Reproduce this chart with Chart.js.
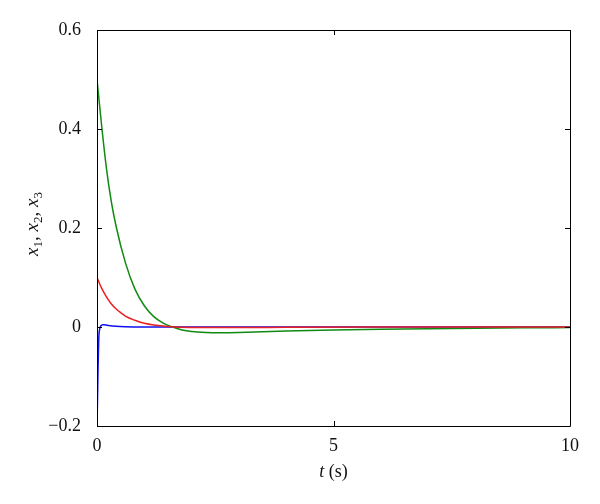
<!DOCTYPE html>
<html>
<head>
<meta charset="utf-8">
<script src="https://cdn.jsdelivr.net/npm/chart.js@4/dist/chart.umd.min.js"></script>
<style>
html,body{margin:0;padding:0;background:#fff;}
#wrap{width:600px;height:504px;}
</style>
</head>
<body>
<div id="wrap"><canvas id="c" width="600" height="504"></canvas></div>
<script>
// ---- data ----
const xTicks = [0, 5, 10];
const yTicks = [-0.2, 0, 0.2, 0.4, 0.6];

// x1 (blue)
const t1 = [0, 0.01, 0.02, 0.03, 0.04, 0.06, 0.08, 0.12, 0.16, 0.25, 0.4, 0.6, 1.0, 2, 4, 6, 8, 10];
const x1 = [-0.2, -0.15, -0.095, -0.05, -0.018, -0.003, 0.002, 0.0045, 0.0045, 0.003, 0.0015, 0.0006, 0.0001, 0, 0, 0, 0, 0];

// x2 (green)
const t2 = [0, 0.1, 0.2, 0.3, 0.4, 0.6, 0.8, 1.0, 1.2, 1.4, 1.6, 1.8, 2.0, 2.3, 2.6, 3.0, 3.5, 4, 5, 6, 7, 8, 9, 10];
const x2 = [0.5, 0.405, 0.32, 0.255, 0.205, 0.13, 0.077, 0.043, 0.021, 0.008, 0.0, -0.006, -0.009, -0.011, -0.0115, -0.011, -0.0095, -0.008, -0.006, -0.0045, -0.0033, -0.0024, -0.0017, -0.0012];

// x3 (red)
const t3 = [0, 0.1, 0.2, 0.3, 0.4, 0.5, 0.6, 0.8, 1.0, 1.2, 1.5, 2, 3, 4, 6, 8, 10];
const x3 = [0.1, 0.078, 0.061, 0.047, 0.037, 0.029, 0.022, 0.0135, 0.0075, 0.004, 0.001, -0.0008, -0.001, -0.0006, -0.0002, 0, 0];

const pts = (t, v) => t.map((x, i) => ({x: x, y: v[i]}));

const SERIF = '"Liberation Serif", "DejaVu Serif", serif';

const framePlugin = {
  id: 'frame',
  afterDatasetsDraw(chart) {
    const {ctx, chartArea: a, scales} = chart;
    const xs = scales.x, ys = scales.y;
    ctx.save();
    ctx.strokeStyle = '#000';
    ctx.lineWidth = 1;
    ctx.beginPath();
    ctx.rect(Math.round(a.left) + 0.5, Math.round(a.top) + 0.5, Math.round(a.right - a.left), Math.round(a.bottom - a.top));
    ctx.stroke();
    const L = 5;
    ctx.beginPath();
    xTicks.forEach(v => {
      const px = Math.round(xs.getPixelForValue(v)) + 0.5;
      ctx.moveTo(px, a.bottom); ctx.lineTo(px, a.bottom - L);
      ctx.moveTo(px, a.top); ctx.lineTo(px, a.top + L);
    });
    yTicks.forEach(v => {
      const py = Math.round(ys.getPixelForValue(v)) + 0.5;
      ctx.moveTo(a.left, py); ctx.lineTo(a.left + L, py);
      ctx.moveTo(a.right, py); ctx.lineTo(a.right - L, py);
    });
    ctx.stroke();

    // axis titles
    ctx.fillStyle = '#111';
    ctx.textBaseline = 'alphabetic';
    // x title: "t (s)"
    const cx = (a.left + a.right) / 2;
    const by = 477;
    ctx.font = 'italic 18px ' + SERIF;
    const wT = ctx.measureText('t').width;
    ctx.font = '18px ' + SERIF;
    const wS = ctx.measureText(' (s)').width;
    let sx = cx - (wT + wS) / 2;
    ctx.font = 'italic 18px ' + SERIF;
    ctx.textAlign = 'left';
    ctx.fillText('t', sx, by);
    ctx.font = '18px ' + SERIF;
    ctx.fillText(' (s)', sx + wT, by);

    // y title: x1, x2, x3 rotated
    const parts = [
      ['x', 'italic 19px ' + SERIF, 0], ['1', '13px ' + SERIF, 4], [', ', '19px ' + SERIF, 0],
      ['x', 'italic 19px ' + SERIF, 0], ['2', '13px ' + SERIF, 4], [', ', '19px ' + SERIF, 0],
      ['x', 'italic 19px ' + SERIF, 0], ['3', '13px ' + SERIF, 4]
    ];
    let total = 0;
    parts.forEach(p => { ctx.font = p[1]; p.push(ctx.measureText(p[0]).width); total += p[3]; });
    ctx.save();
    ctx.translate(38, 224);
    ctx.rotate(-Math.PI / 2);
    let ox = -total / 2;
    parts.forEach(p => {
      ctx.font = p[1];
      ctx.fillText(p[0], ox, p[2]);
      ox += p[3];
    });
    ctx.restore();
    ctx.restore();
  }
};

new Chart(document.getElementById('c'), {
  type: 'line',
  data: {
    datasets: [
      {label: 'x1', order: 2, data: pts(t1, x1), borderColor: '#1010f0', borderWidth: 1.5, pointRadius: 0, cubicInterpolationMode: 'monotone', fill: false},
      {label: 'x2', order: 1, data: pts(t2, x2), borderColor: '#118a11', borderWidth: 1.5, pointRadius: 0, cubicInterpolationMode: 'monotone', fill: false},
      {label: 'x3', order: 0, data: pts(t3, x3), borderColor: '#e82020', borderWidth: 1.5, pointRadius: 0, cubicInterpolationMode: 'monotone', fill: false}
    ]
  },
  options: {
    responsive: false,
    animation: false,
    devicePixelRatio: 1,
    layout: {padding: {left: 0, right: 30, top: 30, bottom: 0}},
    plugins: {legend: {display: false}, tooltip: {enabled: false}},
    scales: {
      x: {
        type: 'linear', min: 0, max: 10,
        afterBuildTicks: s => { s.ticks = xTicks.map(v => ({value: v})); },
        afterFit: s => { s.height = 78; },
        grid: {display: false}, border: {display: false},
        ticks: {color: '#111', font: {family: SERIF, size: 18}, padding: 1, maxRotation: 0,
                callback: v => String(v)}
      },
      y: {
        type: 'linear', min: -0.2, max: 0.6,
        afterBuildTicks: s => { s.ticks = yTicks.map(v => ({value: v})); },
        afterFit: s => { s.width = 97; },
        grid: {display: false}, border: {display: false},
        ticks: {color: '#111', font: {family: SERIF, size: 18}, padding: 8,
                callback: v => { const r = Math.round(v * 10) / 10; return r < 0 ? '\u2212' + Math.abs(r) : String(r); }}
      }
    }
  },
  plugins: [framePlugin]
});
</script>
</body>
</html>
